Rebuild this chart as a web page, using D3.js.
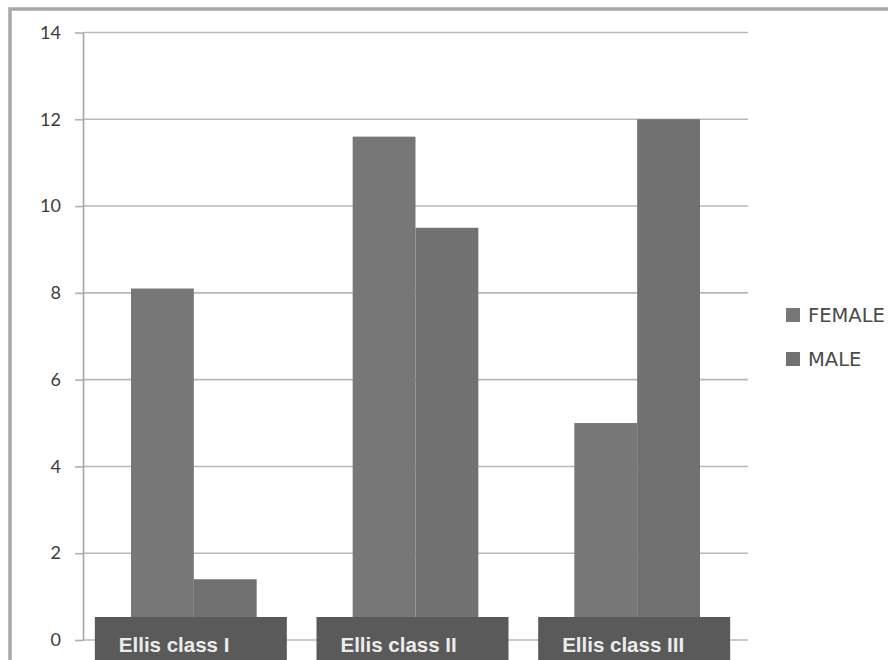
<!DOCTYPE html>
<html>
<head>
<meta charset="utf-8">
<script src="https://cdn.jsdelivr.net/npm/d3@7"></script>
<style>
  html, body { margin: 0; padding: 0; background: #ffffff; }
  svg { display: block; }
</style>
</head>
<body>
<svg id="chart" width="888" height="660"></svg>
<script>
// Ellis class counts by sex
const categories = ["Ellis class I", "Ellis class II", "Ellis class III"];
const seriesNames = ["FEMALE", "MALE"];
const femaleValues = [8.1, 11.6, 5.0];
const maleValues = [1.4, 9.5, 12.0];
const yTickValues = [0, 2, 4, 6, 8, 10, 12, 14];

const rows = categories.map((c, i) => ({
  category: c,
  values: [
    { series: "FEMALE", value: femaleValues[i] },
    { series: "MALE", value: maleValues[i] }
  ]
}));

const svg = d3.select("#chart");
const W = 888, H = 660;
const plot = { left: 83, right: 748, top: 32.5, bottom: 640 };

// outer frame of the chart area
svg.append("rect")
  .attr("x", 10).attr("y", 9)
  .attr("width", W + 20).attr("height", H + 20)
  .attr("fill", "#ffffff")
  .attr("stroke", "#a8a8a8")
  .attr("stroke-width", 3.5);

const y = d3.scaleLinear().domain([0, 14]).range([plot.bottom, plot.top]);
const x0 = d3.scaleBand().domain(categories).range([plot.left, plot.right]).padding(0);
const groupGap = 48;
const x1 = d3.scaleBand().domain(seriesNames)
  .range([groupGap, x0.bandwidth() - groupGap]).padding(0);
const color = d3.scaleOrdinal().domain(seriesNames).range(["#777777", "#717171"]);

// horizontal gridlines
svg.append("g").selectAll("line")
  .data(yTickValues)
  .join("line")
  .attr("x1", plot.left).attr("x2", plot.right)
  .attr("y1", d => y(d)).attr("y2", d => y(d))
  .attr("stroke", "#b8b8b8")
  .attr("stroke-width", 1.6);

// value axis with short outer ticks
const yAxis = svg.append("g")
  .attr("transform", `translate(${plot.left},0)`)
  .call(d3.axisLeft(y).tickValues(yTickValues).tickSize(8).tickSizeOuter(0).tickPadding(14));
yAxis.select(".domain").attr("stroke", "#a4a4a4").attr("stroke-width", 1.6);
yAxis.selectAll(".tick line").attr("stroke", "#b0b0b0").attr("stroke-width", 1.6);
yAxis.selectAll(".tick text")
  .attr("fill", "#3c3c3c")
  .style("font-family", "Lato, 'Liberation Sans', sans-serif")
  .style("font-size", "18px");

// bars
const groups = svg.append("g").selectAll("g")
  .data(rows)
  .join("g")
  .attr("transform", d => `translate(${x0(d.category)},0)`);

groups.selectAll("rect")
  .data(d => d.values)
  .join("rect")
  .attr("x", d => x1(d.series))
  .attr("width", x1.bandwidth())
  .attr("y", d => y(d.value))
  .attr("height", d => y(0) - y(d.value))
  .attr("fill", d => color(d.series));

// category label plates along the base
const plateW = 192;
const plates = svg.append("g").selectAll("g")
  .data(categories)
  .join("g")
  .attr("transform", d => `translate(${x0(d) + x0.bandwidth() / 2 - plateW / 2 - 3},617)`);

plates.append("rect")
  .attr("width", plateW)
  .attr("height", 60)
  .attr("fill", "#5a5a5a");

plates.append("text")
  .attr("x", 24)
  .attr("y", 35)
  .attr("fill", "#ececec")
  .style("font-family", "'Liberation Sans', Arial, sans-serif")
  .style("font-weight", "bold")
  .style("font-size", "20.5px")
  .text(d => d);

// legend
const legend = svg.append("g").selectAll("g")
  .data(seriesNames)
  .join("g")
  .attr("transform", (d, i) => `translate(786,${308 + i * 44})`);

legend.append("rect")
  .attr("width", 14).attr("height", 14)
  .attr("fill", d => color(d));

legend.append("text")
  .attr("x", 22)
  .attr("y", 7)
  .attr("dy", "0.36em")
  .attr("fill", "#4a4a4a")
  .style("font-family", "'DejaVu Sans', sans-serif")
  .style("font-size", "19.5px")
  .text(d => d);
</script>
</body>
</html>
